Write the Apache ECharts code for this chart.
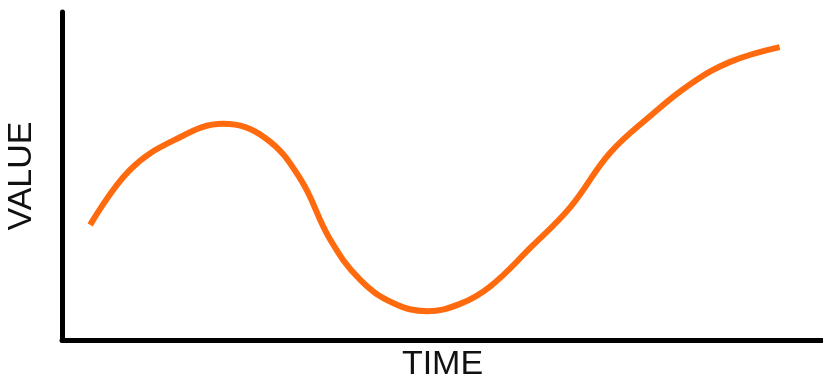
<!DOCTYPE html>
<html>
<head>
<meta charset="utf-8">
<script src="https://cdn.jsdelivr.net/npm/echarts@6/dist/echarts.min.js"></script>
<style>
  html, body { margin: 0; padding: 0; background: #fff; }
  #chart { width: 823px; height: 378px; }
</style>
</head>
<body>
<div id="chart"></div>
<script>
// Sampled positions along the time axis (0–100) and the value at each.
const timeValues = [3.7, 8.9, 14.8, 21.2, 26.7, 31.3, 35.2, 39.2, 43.5, 48.0, 52.3, 56.2, 61.5, 66.8, 72.0, 77.3, 82.5, 87.8, 94.3];
const seriesValues = [35.1, 51.8, 61.0, 65.9, 61.6, 49.2, 30.8, 18.3, 11.3, 8.8, 11.0, 16.2, 28.0, 40.5, 57.0, 68.3, 77.9, 84.8, 89.3];
const xAxisTitle = 'TIME';
const yAxisTitle = 'VALUE';

const points = timeValues.map((t, i) => [t, seriesValues[i]]);
const font = 'Liberation Sans, Arial, Helvetica, sans-serif';

const chart = echarts.init(document.getElementById('chart'), null, { renderer: 'canvas' });
chart.setOption({
  backgroundColor: '#ffffff',
  animation: false,
  grid: { left: 62, right: 0, top: 12, bottom: 38, containLabel: false, outerBoundsMode: 'none' },
  xAxis: {
    type: 'value', min: 0, max: 100,
    name: xAxisTitle, nameLocation: 'middle', nameGap: 8,
    nameTextStyle: { fontFamily: font, fontSize: 34, color: '#111111', verticalAlign: 'top' },
    axisLine: { show: true, lineStyle: { color: '#000000', width: 5 } },
    axisTick: { show: false }, axisLabel: { show: false }, splitLine: { show: false }
  },
  yAxis: {
    type: 'value', min: 0, max: 100,
    name: yAxisTitle, nameLocation: 'middle', nameGap: 23,
    nameTextStyle: { fontFamily: font, fontSize: 34, color: '#111111' },
    axisLine: { show: true, lineStyle: { color: '#000000', width: 5 } },
    axisTick: { show: false }, axisLabel: { show: false }, splitLine: { show: false }
  },
  series: [{
    type: 'line',
    data: points,
    smooth: 0.4,
    symbol: 'none',
    lineStyle: { color: '#FF6A0E', width: 6, cap: 'butt' }
  }]
});
</script>
</body>
</html>
